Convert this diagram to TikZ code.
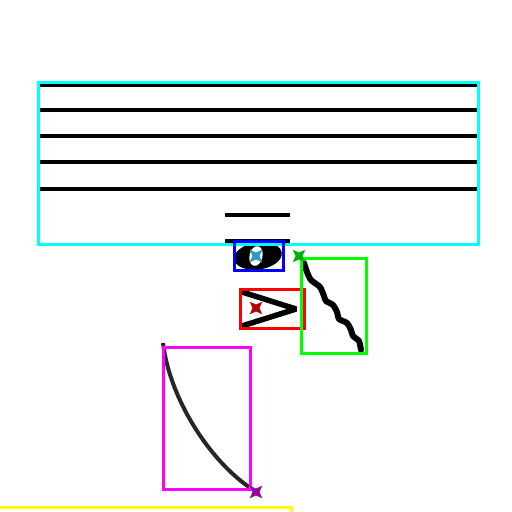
\documentclass[tikz,border=0pt]{standalone}
\usetikzlibrary{shapes.geometric}
\definecolor{boxcyan}{RGB}{0,255,255}
\definecolor{boxblue}{RGB}{0,0,255}
\definecolor{boxred}{RGB}{255,0,0}
\definecolor{boxgreen}{RGB}{0,255,0}
\definecolor{boxmagenta}{RGB}{255,0,255}
\definecolor{boxyellow}{RGB}{255,255,0}
\tikzset{
	staffline/.style={line width=3.5pt, black},
	bbox/.style={line width=3pt, draw=#1},
	marker/.style={star, star points=4, star point ratio=0.4, fill=#1, inner sep=0pt, minimum size=7pt}
}
\begin{document}
\begin{tikzpicture}[x=1pt,y=-1pt]
	\useasboundingbox (0,0) rectangle (512,512);
	% staff
	\foreach \y in {85,110,136,162,189}
		\draw[staffline] (39,\y) -- (477,\y);
	% ledger lines
	\draw[staffline] (225,215) -- (290,215);
	\draw[staffline] (225,241) -- (290,241);
	% notehead
	\fill[black, rotate around={8:(258,256)}] (258,256) ellipse (24 and 13.5);
	\fill[white, rotate around={-12:(256,256)}] (256,256) ellipse (6.5 and 10);
	% accent
	\draw[line width=5.5pt, miter limit=3] (242,292) -- (296,309) -- (242,326);
	% wavy line
	\draw[line width=6pt, line join=round, line cap=round] plot[smooth, tension=0.4] coordinates
		{(304,263) (307,272) (311,280) (320,287) (324,296) (326,301) (333,305) (337,312) (339,319) (347,323) (351,330) (353,336) (359,341) (361,350)};
	% slur
	\draw[line width=4pt, black!85] (163,343) .. controls (170,400) and (210,460) .. (249,487);
	% boxes
	\draw[bbox=boxcyan] (38,82) rectangle (478,244);
	\draw[bbox=boxblue] (234,241) rectangle (283,270);
	\draw[bbox=boxred] (240,289) rectangle (304,328);
	\draw[bbox=boxgreen] (301,258) rectangle (366,353);
	\draw[bbox=boxmagenta] (163,347) rectangle (250,489);
	\draw[bbox=boxyellow] (-5,507) -- (291,507) -- (291,520);
	% markers
	\node[marker=cyan!80!black] (mhead) at (256,256) {};
	\node[marker=red!70!black] (maccent) at (256,308) {};
	\node[marker=green!70!black] (mwave) at (299,256) {};
	\node[marker=violet!80!magenta] (mslur) at (256,492) {};
\end{tikzpicture}
\end{document}
